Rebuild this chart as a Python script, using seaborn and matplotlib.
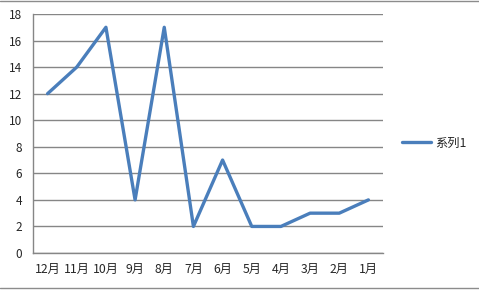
import matplotlib
matplotlib.use("Agg")
import matplotlib.pyplot as plt
import seaborn as sns
import pandas as pd
import numpy as np
from matplotlib.lines import Line2D

categories = ["12月", "11月", "10月", "9月", "8月", "7月", "6月", "5月", "4月", "3月", "2月", "1月"]
values = [12, 14, 17, 4, 17, 2, 7, 2, 2, 3, 3, 4]
series_name = "系列1"
y_ticks = list(range(0, 19, 2))

sns.set_theme(style="white")
plt.rcParams['font.family'] = ['Noto Sans CJK SC', 'DejaVu Sans']

df = pd.DataFrame({"x": np.arange(len(categories)), "y": values, "series": series_name})

fig = plt.figure(figsize=(4.79, 2.90), dpi=100)
ax = fig.add_axes([33/479, 1 - 253/290, (383 - 33)/479, (253 - 14)/290])

sns.lineplot(data=df, x="x", y="y", hue="series", palette=["#4A7EBB"],
             linewidth=2.4, sort=False, ax=ax, legend=False)

ax.set_xlim(-0.5, len(categories) - 0.5)
ax.set_ylim(0, 18)
ax.set_yticks(y_ticks)
ax.set_yticklabels([str(v) for v in y_ticks], fontsize=8.5)
ax.yaxis.grid(True, color="#868686", linewidth=1)
ax.set_axisbelow(True)

# category boundaries as major ticks, labels on minor ticks at centres
ax.set_xticks(np.arange(-0.5, len(categories), 1.0))
ax.set_xticklabels([])
ax.set_xticks(np.arange(len(categories)), minor=True)
ax.set_xticklabels(categories, minor=True, fontsize=8.8)
ax.tick_params(axis="x", which="major", direction="out", length=4, color="#868686", width=1)
ax.tick_params(axis="x", which="minor", length=0, pad=7)
ax.tick_params(axis="y", direction="out", length=4, color="#868686", width=1, pad=4)

for s in ["top", "right"]:
    ax.spines[s].set_visible(False)
for s in ["left", "bottom"]:
    ax.spines[s].set_color("#868686")
    ax.spines[s].set_linewidth(1)
ax.set_xlabel("")
ax.set_ylabel("")

handle = Line2D([0], [0], color="#4A7EBB", linewidth=2.4)
fig.legend([handle], [series_name], loc="center left", bbox_to_anchor=(391/479, 1 - 143/290),
           frameon=False, fontsize=8.8, handlelength=2.4, handletextpad=0.3)

# outer chart border lines
fig.add_artist(Line2D([0, 1], [1 - 0.5/290, 1 - 0.5/290], transform=fig.transFigure, color="#8c8c8c", linewidth=1))
fig.add_artist(Line2D([0, 1], [2.5/290, 2.5/290], transform=fig.transFigure, color="#8c8c8c", linewidth=1))

fig.savefig("out.png", dpi=100)
